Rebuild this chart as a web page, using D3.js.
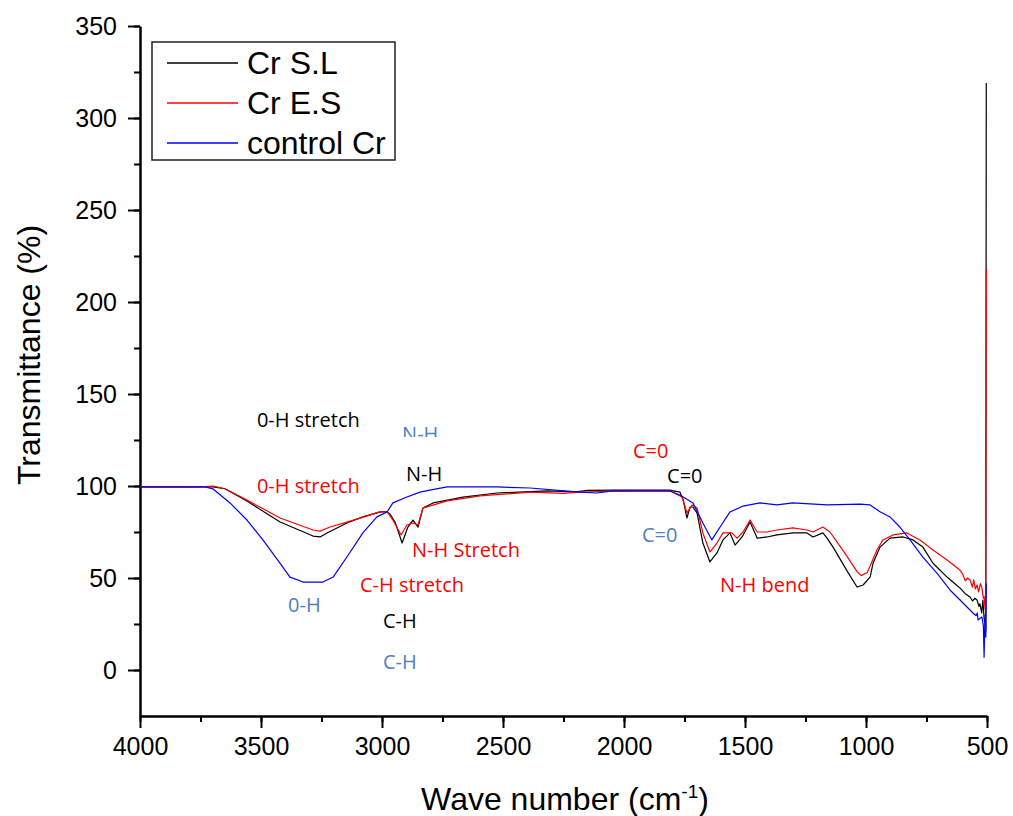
<!DOCTYPE html>
<html>
<head>
  <script src="https://d3js.org/d3.v7.min.js"></script>
  <style>
    body { margin: 0; background: #fff; }
    .axis text { font-family: "Liberation Sans", Arial, sans-serif; font-size: 25px; fill: #000; }
    .axis path, .axis line { stroke: #000; }
    .title { font-family: "Liberation Sans", Arial, sans-serif; font-size: 32px; fill: #000; }
    .note { font-family: "Open Sans", sans-serif; font-size: 20px; }
    .line { fill: none; stroke-width: 1.2px; stroke-linejoin: round; }
  </style>
</head>
<body>
  <script>
    // FTIR spectra: [wave number (cm-1), transmittance (%)]
    const crSL = [
      [4000, 99.5], [3752, 99.5], [3698, 99.5], [3649, 98.5], [3558, 91.8], [3421, 80.4],
      [3285, 72.8], [3256, 72.3], [3227, 74.5], [3145, 79.9], [3079, 83.2], [3008, 85.9],
      [2979, 85.9], [2967, 84.8], [2946, 80.4], [2917, 69.0], [2893, 77.7], [2872, 81.5],
      [2851, 77.7], [2831, 88.0], [2789, 90.8], [2665, 94.0], [2525, 96.2], [2318, 97.3],
      [2200, 96.8], [2150, 97.6], [2045, 97.8], [1810, 97.8], [1769, 96.7], [1755, 92.4],
      [1740, 82.6], [1727, 88.6], [1715, 88.6], [1698, 85.3], [1674, 69.0], [1645, 58.7],
      [1616, 63.6], [1591, 70.7], [1562, 74.5], [1541, 67.9], [1512, 72.3], [1479, 80.4],
      [1450, 71.7], [1409, 72.3], [1368, 73.4], [1302, 74.5], [1244, 74.5], [1219, 72.3],
      [1178, 74.5], [1161, 71.7], [1136, 66.8], [1079, 54.0], [1037, 45.1], [1012, 46.2],
      [983, 50.5], [971, 58.0], [942, 66.8], [901, 71.7], [847, 72.3], [806, 70.7],
      [765, 66.8], [723, 58.0], [665, 50.5], [612, 44.6], [590, 41.5], [570, 39.7],
      [560, 37.5], [550, 39.0], [541, 38.0], [533, 34.5], [529, 36.0], [522, 31.0],
      [517, 38.0], [512, 28.0], [508, 25.5], [505, 21.0], [503, 319]
    ];
    const crES = [
      [4000, 99.5], [3752, 99.5], [3698, 100], [3649, 98.5], [3558, 92.4], [3421, 82.6],
      [3285, 76.1], [3256, 75.5], [3215, 77.7], [3145, 80.4], [3008, 85.9], [2979, 86.0],
      [2955, 81.5], [2921, 73.4], [2897, 78.8], [2872, 79.9], [2851, 78.8], [2831, 88.0],
      [2731, 91.9], [2595, 94.6], [2388, 96.7], [2250, 96.0], [2182, 96.7], [2100, 97.0],
      [1810, 97.3], [1760, 94.0], [1740, 85.3], [1719, 89.7], [1698, 88.0], [1674, 74.5],
      [1645, 64.1], [1616, 69.0], [1591, 74.5], [1554, 74.5], [1533, 71.7], [1508, 75.0],
      [1479, 81.5], [1450, 75.0], [1409, 75.0], [1368, 76.1], [1302, 77.2], [1244, 76.1],
      [1219, 75.0], [1178, 77.7], [1149, 75.0], [1120, 69.6], [1079, 61.9], [1037, 53.5],
      [1020, 51.3], [995, 53.0], [983, 56.5], [955, 65.2], [930, 70.7], [889, 73.4],
      [831, 74.5], [777, 70.7], [723, 65.2], [665, 59.8], [612, 54.3], [600, 52.0],
      [590, 48.5], [580, 50.0], [570, 48.9], [560, 45.0], [555, 49.0], [548, 44.0],
      [541, 46.2], [535, 42.5], [527, 47.0], [521, 44.6], [515, 39.0], [512, 40.0],
      [508, 33.0], [505, 42.0], [503, 218]
    ];
    const controlCr = [
      [4000, 99.5], [3731, 99.5], [3698, 98.4], [3628, 90.8], [3558, 81.5], [3492, 70.7],
      [3421, 58.0], [3380, 50.5], [3326, 47.8], [3244, 47.8], [3202, 50.5], [3145, 61.4],
      [3079, 74.5], [3021, 83.2], [2979, 85.9], [2955, 90.8], [2897, 94.0], [2843, 96.7],
      [2802, 97.8], [2731, 99.5], [2525, 99.5], [2388, 98.9], [2182, 96.7], [2112, 96.2],
      [2045, 97.3], [1810, 97.3], [1769, 95.1], [1715, 90.8], [1674, 79.9], [1637, 70.7],
      [1603, 77.7], [1562, 85.9], [1508, 89.1], [1438, 90.8], [1368, 89.7], [1302, 90.8],
      [1161, 89.7], [1025, 90.2], [983, 89.7], [942, 86.0], [901, 83.2], [860, 77.7],
      [818, 70.7], [765, 61.4], [707, 52.7], [653, 43.5], [599, 36.4], [558, 31.0],
      [545, 29.5], [540, 31.0], [537, 27.2], [530, 28.0], [521, 28.8], [515, 24.0],
      [512, 7.0], [508, 30.0], [505, 18.0], [503, 47]
    ];

    const seriesNames = ["Cr S.L", "Cr E.S", "control Cr"];
    const seriesData = [crSL, crES, controlCr];
    const seriesColors = ["#000000", "#ff0000", "#0000ff"];

    const xTicks = [4000, 3500, 3000, 2500, 2000, 1500, 1000, 500];
    const yTicks = [0, 50, 100, 150, 200, 250, 300, 350];

    // band labels: text, colour, wave number and transmittance at text start
    const notes = [
      {text: "0-H stretch", color: "#000000", v: 3517, t: 132.1},
      {text: "0-H stretch", color: "#ff0000", v: 3517, t: 96.2},
      {text: "N-H", color: "#4f81bd", v: 2917, t: 124.5, clipBelow: 126.6},
      {text: "N-H", color: "#000000", v: 2901, t: 102.7},
      {text: "N-H Stretch", color: "#ff0000", v: 2876, t: 61.4},
      {text: "C-H stretch", color: "#ff0000", v: 3091, t: 42.4},
      {text: "0-H", color: "#4f81bd", v: 3388, t: 31.5},
      {text: "C-H", color: "#000000", v: 2996, t: 22.8, clipAbove: 30.6},
      {text: "C-H", color: "#4f81bd", v: 2996, t: 0.5},
      {text: "C=0", color: "#ff0000", v: 1963, t: 115.2},
      {text: "C=0", color: "#000000", v: 1822, t: 101.6},
      {text: "C=0", color: "#4f81bd", v: 1926, t: 69.6},
      {text: "N-H bend", color: "#ff0000", v: 1603, t: 42.4}
    ];

    const W = 1013, H = 816;
    const svg = d3.select("body").append("svg")
      .attr("width", W)
      .attr("height", H);

    const x = d3.scaleLinear().domain([4000, 500]).range([140, 987]);
    const y = d3.scaleLinear().domain([-25, 350]).range([716, 26]);

    // minor ticks
    svg.append("g")
      .attr("class", "axis")
      .attr("transform", "translate(0,716)")
      .call(d3.axisBottom(x).tickValues(d3.range(4000, 499, -250)).tickSize(6).tickFormat(""))
      .call(g => g.select(".domain").remove())
      .selectAll("line").attr("stroke-width", 2);
    svg.append("g")
      .attr("class", "axis")
      .attr("transform", "translate(140,0)")
      .call(d3.axisLeft(y).tickValues(d3.range(0, 351, 25)).tickSize(6).tickFormat(""))
      .call(g => g.select(".domain").remove())
      .selectAll("line").attr("stroke-width", 2);

    // major ticks and labels
    const xAxis = svg.append("g")
      .attr("class", "axis")
      .attr("transform", "translate(0,716)")
      .call(d3.axisBottom(x).tickValues(xTicks).tickSize(12).tickSizeOuter(0).tickPadding(9).tickFormat(d3.format("d")));
    xAxis.select(".domain").attr("stroke-width", 2.5);
    xAxis.selectAll("line").attr("stroke-width", 2);

    const yAxis = svg.append("g")
      .attr("class", "axis")
      .attr("transform", "translate(140,0)")
      .call(d3.axisLeft(y).tickValues(yTicks).tickSize(12).tickSizeOuter(0).tickPadding(11).tickFormat(d3.format("d")));
    yAxis.select(".domain").attr("stroke-width", 2.5);
    yAxis.selectAll("line").attr("stroke-width", 2);

    // axis titles
    const xTitle = svg.append("text")
      .attr("class", "title")
      .attr("x", 565)
      .attr("y", 810)
      .attr("text-anchor", "middle");
    xTitle.append("tspan").text("Wave number (cm");
    xTitle.append("tspan").attr("dy", -12).attr("font-size", 19).text("-1");
    xTitle.append("tspan").attr("dy", 12).text(")");

    svg.append("text")
      .attr("class", "title")
      .attr("transform", "translate(40,355) rotate(-90)")
      .attr("text-anchor", "middle")
      .attr("font-size", 34)
      .text("Transmittance (%)");

    // spectra
    const line = d3.line()
      .x(d => x(d[0]))
      .y(d => y(d[1]));

    seriesData.forEach((data, i) => {
      svg.append("path")
        .datum(data)
        .attr("class", "line")
        .attr("stroke", seriesColors[i])
        .attr("d", line);
    });

    // band labels
    const defs = svg.append("defs");
    notes.forEach((n, i) => {
      const t = svg.append("text")
        .attr("class", "note")
        .attr("x", x(n.v))
        .attr("y", y(n.t))
        .attr("fill", n.color)
        .text(n.text);
      if (n.clipBelow !== undefined || n.clipAbove !== undefined) {
        const top = n.clipAbove !== undefined ? y(n.clipAbove) : 0;
        const bottom = n.clipBelow !== undefined ? y(n.clipBelow) : H;
        defs.append("clipPath").attr("id", "clip" + i)
          .append("rect")
          .attr("x", 0).attr("y", top)
          .attr("width", W).attr("height", bottom - top);
        t.attr("clip-path", `url(#clip${i})`);
      }
    });

    // legend
    const legend = svg.append("g").attr("transform", "translate(152,42)");
    legend.append("rect")
      .attr("width", 243)
      .attr("height", 118)
      .attr("fill", "#fff")
      .attr("stroke", "#222")
      .attr("stroke-width", 1.5);

    seriesNames.forEach((name, i) => {
      const row = legend.append("g")
        .attr("transform", `translate(0, ${21 + i * 40})`);
      row.append("line")
        .attr("x1", 15).attr("x2", 86)
        .attr("stroke", seriesColors[i])
        .attr("stroke-width", 1.5);
      row.append("text")
        .attr("class", "title")
        .attr("x", 95)
        .attr("y", 11)
        .attr("font-size", 31)
        .text(name);
    });
  </script>
</body>
</html>
